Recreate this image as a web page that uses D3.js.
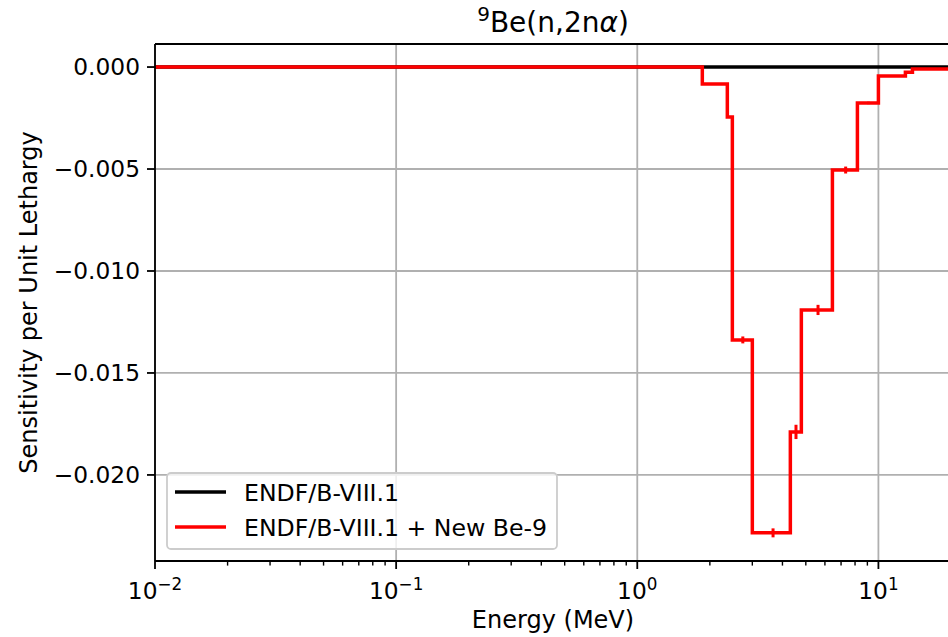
<!DOCTYPE html>
<html>
<head>
<meta charset="utf-8">
<script src="https://cdn.jsdelivr.net/npm/d3@7"></script>
<style>
  body { margin: 0; background: #fff; }
  svg { display: block; font-family: "DejaVu Sans", sans-serif; }
</style>
</head>
<body>
<svg id="chart" width="948" height="637"></svg>
<script>
// ---- data ----
const energyEdges = [1e-5, 1.861, 2.363, 2.479, 3.0, 4.313, 4.791, 6.445, 8.183, 10.0, 12.94, 13.84, 20.0];
const baseSens   = [0, 0, 0, 0, 0, 0, 0, 0, 0, 0, 0, 0];
const newSens    = [0, -0.00083, -0.00245, -0.01338, -0.02284, -0.01789, -0.01191, -0.00505, -0.00176, -0.00044, -0.00025, -0.0001];
const newErr     = [0, 0.00003, 0.00005, 0.00017, 0.00022, 0.00035, 0.00025, 0.00017, 0.00006, 0.00003, 0.00002, 0.00001];
const seriesNames = ["ENDF/B-VIII.1", "ENDF/B-VIII.1 + New Be-9"];
const seriesColors = ["#000000", "#ff0000"];
const yTicks = [0, -0.005, -0.010, -0.015, -0.020];
const xMajorExps = [-2, -1, 0, 1];

// ---- layout ----
const svg = d3.select("#chart");
const L = 155, R = 951, T = 44, B = 561;
const x = d3.scaleLog().domain([0.01, 20]).range([L, R]);
const y = d3.scaleLinear().domain([-0.02422, 0.00113]).range([B, T]);
const FS = 23.3, FL = 24, FLeg = 23.6;

const defs = svg.append("defs");
defs.append("clipPath").attr("id", "clip")
  .append("rect").attr("x", L).attr("y", T).attr("width", R - L).attr("height", B - T);

// grid
const grid = svg.append("g");
xMajorExps.forEach(e => {
  grid.append("line").attr("x1", x(Math.pow(10, e))).attr("x2", x(Math.pow(10, e)))
    .attr("y1", T).attr("y2", B).attr("stroke", "#b0b0b0").attr("stroke-width", 1.8);
});
yTicks.forEach(v => {
  grid.append("line").attr("x1", L).attr("x2", R).attr("y1", y(v)).attr("y2", y(v))
    .attr("stroke", "#b0b0b0").attr("stroke-width", 1.8);
});

// step data
function stepPts(vals) {
  const pts = [];
  vals.forEach((v, i) => {
    pts.push([energyEdges[i], v]);
    pts.push([energyEdges[i + 1], v]);
  });
  return pts;
}
const line = d3.line().x(d => x(d[0])).y(d => y(d[1]));
const plot = svg.append("g").attr("clip-path", "url(#clip)");

plot.append("path").attr("d", line(stepPts(baseSens)))
  .attr("fill", "none").attr("stroke", seriesColors[0]).attr("stroke-width", 3.5)
  .attr("stroke-linejoin", "miter");
plot.append("path").attr("d", line(stepPts(newSens)))
  .attr("fill", "none").attr("stroke", seriesColors[1]).attr("stroke-width", 3.5)
  .attr("stroke-linejoin", "miter");

// error bars at bin midpoints
newSens.forEach((v, i) => {
  const mid = (energyEdges[i] + energyEdges[i + 1]) / 2;
  if (newErr[i] <= 0) return;
  plot.append("line").attr("x1", x(mid)).attr("x2", x(mid))
    .attr("y1", y(v - newErr[i])).attr("y2", y(v + newErr[i]))
    .attr("stroke", seriesColors[1]).attr("stroke-width", 3.0);
});

// spines
const sp = svg.append("g").attr("stroke", "#000").attr("stroke-width", 1.8).attr("fill", "none");
sp.append("line").attr("x1", L).attr("x2", L).attr("y1", T).attr("y2", B);
sp.append("line").attr("x1", L).attr("x2", R).attr("y1", B).attr("y2", B);
sp.append("line").attr("x1", L).attr("x2", R).attr("y1", T).attr("y2", T);
sp.append("line").attr("x1", R).attr("x2", R).attr("y1", T).attr("y2", B);

// x axis ticks
const xAxisG = svg.append("g");
for (let e = -2; e <= 1; e++) {
  for (let m = 1; m <= 9; m++) {
    const val = m * Math.pow(10, e);
    if (val > 20) continue;
    const major = m === 1;
    xAxisG.append("line").attr("x1", x(val)).attr("x2", x(val))
      .attr("y1", B).attr("y2", B + (major ? 8 : 4.6))
      .attr("stroke", "#000").attr("stroke-width", major ? 1.8 : 1.4);
  }
}
xMajorExps.forEach(e => {
  const t = xAxisG.append("text").attr("x", x(Math.pow(10, e))).attr("y", 599)
    .attr("text-anchor", "middle").attr("font-size", FS).attr("fill", "#000");
  t.append("tspan").text("10");
  t.append("tspan").attr("dy", -9).attr("font-size", FS * 0.72)
    .text(e < 0 ? "\u2212" + Math.abs(e) : String(e));
});
svg.append("text").attr("x", (L + R) / 2).attr("y", 628).attr("text-anchor", "middle")
  .attr("font-size", FL).text("Energy (MeV)");

// y axis
const fmt = d3.format(".3f");
yTicks.forEach(v => {
  svg.append("line").attr("x1", L - 8).attr("x2", L).attr("y1", y(v)).attr("y2", y(v))
    .attr("stroke", "#000").attr("stroke-width", 1.8);
  svg.append("text").attr("x", L - 15).attr("y", y(v) + 8.3).attr("text-anchor", "end")
    .attr("font-size", FS).text(fmt(v).replace("-", "\u2212"));
});
svg.append("text").attr("transform", `translate(37,${(T + B) / 2}) rotate(-90)`)
  .attr("text-anchor", "middle").attr("font-size", FL).text("Sensitivity per Unit Lethargy");

// title
const title = svg.append("text").attr("x", (L + R) / 2).attr("y", 32).attr("text-anchor", "middle")
  .attr("font-size", 28);
title.append("tspan").attr("dy", -11).attr("font-size", 20).text("9");
title.append("tspan").attr("dy", 11).text("Be(n,2n");
title.append("tspan").attr("font-style", "italic").text("\u03b1");
title.append("tspan").text(")");

// legend
const lg = svg.append("g");
lg.append("rect").attr("x", 167).attr("y", 473).attr("width", 390).attr("height", 76)
  .attr("rx", 4).attr("fill", "#fff").attr("fill-opacity", 0.8)
  .attr("stroke", "#cccccc").attr("stroke-width", 1.8);
const rowsY = [492, 527];
seriesNames.forEach((n, i) => {
  lg.append("line").attr("x1", 175).attr("x2", 226).attr("y1", rowsY[i]).attr("y2", rowsY[i])
    .attr("stroke", seriesColors[i]).attr("stroke-width", 3.5);
  lg.append("text").attr("x", 244).attr("y", rowsY[i] + 8.6).attr("font-size", FLeg).text(n);
});
</script>
</body>
</html>
